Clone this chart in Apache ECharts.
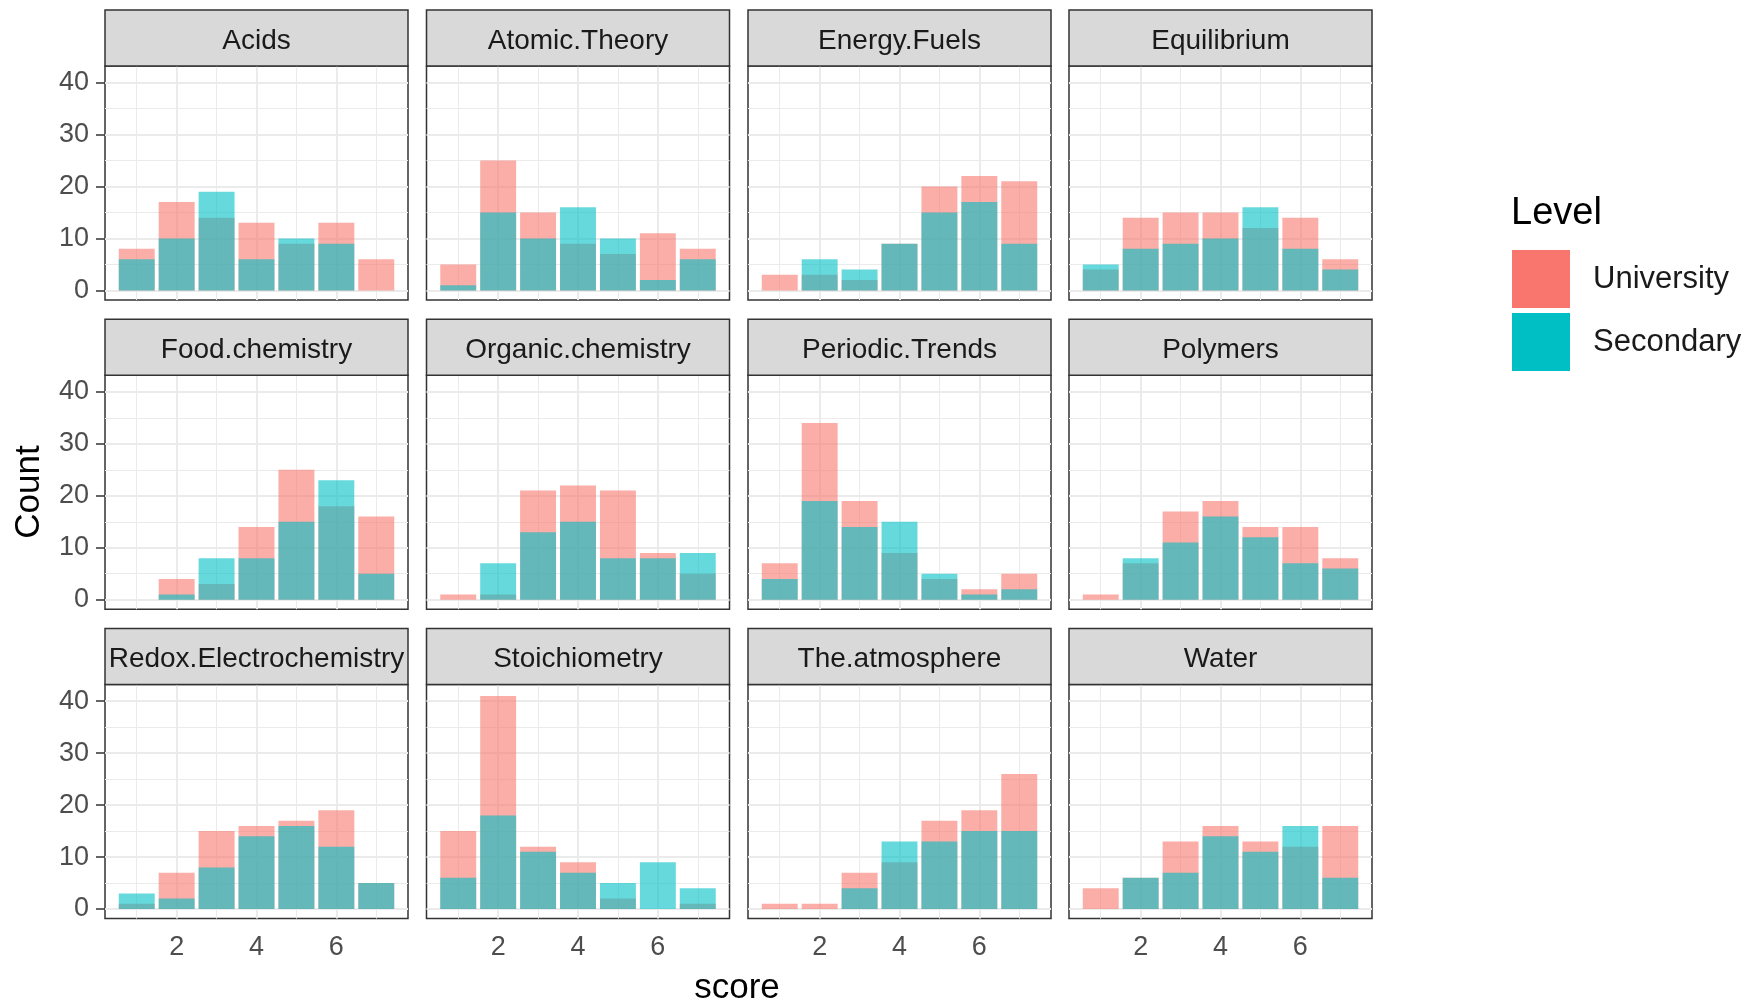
<!DOCTYPE html>
<html><head><meta charset="utf-8">
<script src="https://cdn.jsdelivr.net/npm/echarts@6/dist/echarts.min.js"></script>
<style>html,body{margin:0;padding:0;background:#fff}#c{width:1749px;height:1002px}</style>
</head><body><div id="c"></div>
<script>
// ---------- data ----------
const topics = ['Acids','Atomic.Theory','Energy.Fuels','Equilibrium','Food.chemistry','Organic.chemistry','Periodic.Trends','Polymers','Redox.Electrochemistry','Stoichiometry','The.atmosphere','Water'];
const scores = [1,2,3,4,5,6,7];
const levels = ['University','Secondary'];

const acidsUniversity       = [8,17,14,13,9,13,6];
const acidsSecondary        = [6,10,19,6,10,9,0];
const atomicUniversity      = [5,25,15,9,7,11,8];
const atomicSecondary       = [1,15,10,16,10,2,6];
const energyUniversity      = [3,3,2,9,20,22,21];
const energySecondary       = [0,6,4,9,15,17,9];
const equilibriumUniversity = [4,14,15,15,12,14,6];
const equilibriumSecondary  = [5,8,9,10,16,8,4];
const foodUniversity        = [0,4,3,14,25,18,16];
const foodSecondary         = [0,1,8,8,15,23,5];
const organicUniversity     = [1,1,21,22,21,9,5];
const organicSecondary      = [0,7,13,15,8,8,9];
const periodicUniversity    = [7,34,19,9,4,2,5];
const periodicSecondary     = [4,19,14,15,5,1,2];
const polymersUniversity    = [1,7,17,19,14,14,8];
const polymersSecondary     = [0,8,11,16,12,7,6];
const redoxUniversity       = [1,7,15,16,17,19,5];
const redoxSecondary        = [3,2,8,14,16,12,5];
const stoichUniversity      = [15,41,12,9,2,0,1];
const stoichSecondary       = [6,18,11,7,5,9,4];
const atmosphereUniversity  = [1,1,7,9,17,19,26];
const atmosphereSecondary   = [0,0,4,13,13,15,15];
const waterUniversity       = [4,6,13,16,13,12,16];
const waterSecondary        = [0,6,7,14,11,16,6];

const xTickLabels = [2,4,6];
const yTickLabels = [0,10,20,30,40];
const xMinorGrid = [1,3,5,7];
const yMinorGrid = [5,15,25,35];

const universityCounts = [acidsUniversity, atomicUniversity, energyUniversity, equilibriumUniversity, foodUniversity, organicUniversity, periodicUniversity, polymersUniversity, redoxUniversity, stoichUniversity, atmosphereUniversity, waterUniversity];
const secondaryCounts = [acidsSecondary, atomicSecondary, energySecondary, equilibriumSecondary, foodSecondary, organicSecondary, periodicSecondary, polymersSecondary, redoxSecondary, stoichSecondary, atmosphereSecondary, waterSecondary];

// ---------- layout ----------
const FONT = 'Liberation Sans, Arial, sans-serif';
const colLeft = [105, 426.5, 748, 1069];
const plotW = 303;
const stripTop = [10, 319.3, 628.6];
const stripH = 56;
const plotH = 234;

// expanded ranges (as in the reference)
const yMin = -1.85, yMax = 43.2;
const xMin = 0.205, xMax = 7.795;

const grids = [], xAxes = [], yAxes = [], series = [], graphics = [];
topics.forEach((t, i) => {
  const r = Math.floor(i / 4), c = i % 4;
  const top = stripTop[r] + stripH;
  grids.push({left: colLeft[c], top: top, width: plotW, height: plotH, show: true,
    backgroundColor: '#fff', borderColor: '#333333', borderWidth: 1.5, containLabel: false});
  const bottomRow = r === 2, leftCol = c === 0;
  xAxes.push({type: 'value', gridIndex: i, min: xMin, max: xMax,
    axisLine: {show: false}, splitLine: {show: false},
    axisTick: {show: bottomRow, customValues: xTickLabels, length: 9, lineStyle: {color: '#333333', width: 1.5}},
    axisLabel: {show: bottomRow, customValues: xTickLabels, fontSize: 27, color: '#4D4D4D', margin: 15, fontFamily: FONT}});
  yAxes.push({type: 'value', gridIndex: i, min: yMin, max: yMax,
    axisLine: {show: false}, splitLine: {show: false},
    axisTick: {show: leftCol, customValues: yTickLabels, length: 9, lineStyle: {color: '#333333', width: 1.5}},
    axisLabel: {show: leftCol, customValues: yTickLabels, fontSize: 27, color: '#4D4D4D', margin: 16, fontFamily: FONT}});

  const gridLines = [];
  xMinorGrid.forEach(v => gridLines.push({xAxis: v, lineStyle: {width: 1}}));
  yMinorGrid.forEach(v => gridLines.push({yAxis: v, lineStyle: {width: 1}}));
  xTickLabels.forEach(v => gridLines.push({xAxis: v, lineStyle: {width: 2}}));
  yTickLabels.forEach(v => gridLines.push({yAxis: v, lineStyle: {width: 2}}));

  const toData = arr => scores.map((s, j) => [s, arr[j] === 0 ? '-' : arr[j]]);
  series.push({type: 'bar', name: 'University', xAxisIndex: i, yAxisIndex: i,
    data: toData(universityCounts[i]), barWidth: '90%', barGap: '-100%', z: 2,
    itemStyle: {color: 'rgba(248,118,109,0.6)'},
    markLine: {silent: true, symbol: 'none', z: 1, animation: false, label: {show: false},
      lineStyle: {color: '#EBEBEB', type: 'solid'}, data: gridLines}});
  series.push({type: 'bar', name: 'Secondary', xAxisIndex: i, yAxisIndex: i,
    data: toData(secondaryCounts[i]), barWidth: '90%', barGap: '-100%', z: 3,
    itemStyle: {color: 'rgba(0,191,196,0.6)'}});

  // facet strip
  graphics.push({type: 'rect', shape: {x: colLeft[c], y: stripTop[r], width: plotW, height: stripH},
    style: {fill: '#D9D9D9', stroke: '#333333', lineWidth: 1.5}, z: 10});
  graphics.push({type: 'text', x: colLeft[c] + plotW / 2, y: stripTop[r] + stripH / 2 + 3,
    style: {text: t, fontSize: 28, fill: '#1A1A1A', fontFamily: FONT, align: 'center', verticalAlign: 'middle'}, z: 11});
});

graphics.push({type: 'text', x: 29, y: 492, rotation: Math.PI / 2,
  style: {text: 'Count', fontSize: 35, fill: '#000', fontFamily: FONT, align: 'center', verticalAlign: 'middle'}});
graphics.push({type: 'text', x: 737, y: 988,
  style: {text: 'score', fontSize: 35, fill: '#000', fontFamily: FONT, align: 'center', verticalAlign: 'middle'}});
graphics.push({type: 'text', x: 1511, y: 214,
  style: {text: 'Level', fontSize: 38, fill: '#000', fontFamily: FONT, align: 'left', verticalAlign: 'middle'}});

const chart = echarts.init(document.getElementById('c'), null, {renderer: 'canvas'});
chart.setOption({
  animation: false,
  backgroundColor: '#fff',
  grid: grids, xAxis: xAxes, yAxis: yAxes, series: series,
  legend: {orient: 'vertical', left: 1512, top: 250, padding: 0, itemWidth: 58, itemHeight: 58, itemGap: 5,
    icon: 'rect', selectedMode: false,
    data: [{name: levels[0], itemStyle: {color: '#F8766D', opacity: 1}},
           {name: levels[1], itemStyle: {color: '#00BFC4', opacity: 1}}],
    textStyle: {fontSize: 31, color: '#1A1A1A', fontFamily: FONT, padding: [0, 0, 0, 18]}},
  graphic: graphics
});
</script></body></html>
